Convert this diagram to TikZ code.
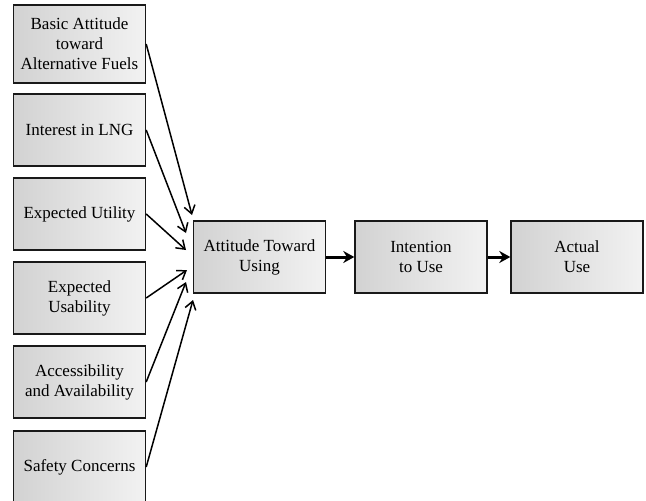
\documentclass[tikz,border=0pt]{standalone}
\usepackage{fontspec}
\setmainfont{Liberation Serif}
\usetikzlibrary{positioning, arrows.meta, calc}
\definecolor{boxLeft}{RGB}{210,210,210}
\definecolor{boxRight}{RGB}{242,242,242}
\definecolor{boxBrd}{RGB}{25,25,25}
\tikzset{
  every node/.style={font=\fontsize{17}{20}\selectfont},
  B/.style={draw=boxBrd, line width=1.4pt, align=center, inner sep=2pt,
            minimum width=132pt, minimum height=72pt,
            left color=boxLeft, right color=boxRight},
  AR/.style={-{Straight Barb[length=8pt, width=11pt, line width=1.5pt]}, line width=1.5pt, black},
  MAIN/.style={-{Stealth[length=11pt, width=12pt]}, line width=3pt, black},
}
\newcommand{\inflow}[2]{\draw[AR] (#1.east) -- (#2);}

\begin{document}
\begin{tikzpicture}[x=1pt, y=1pt, yscale=-1]

\useasboundingbox (0,0) rectangle (646,501);

%% Input factors
\node[B, minimum height=78pt] (BAS) at (79.5,44)
  {Basic Attitude\\toward\\Alternative Fuels};
\node[B] (INT) at (79.5,130) {Interest in LNG};
\node[B] (UTI) at (79.5,214) {Expected Utility};
\node[B] (USA) at (79.5,298) {Expected\\Usability};
\node[B] (ACC) at (79.5,382) {Accessibility\\and Availability};
\node[B] (SAF) at (79.5,467) {Safety Concerns};

%% Main chain
\node[B] (ATU) at (259.5,257) {Attitude Toward\\Using};
\node[B] (ITU) at (421,257) {Intention\\to Use};
\node[B] (ACT) at (577,257) {Actual\\Use};

%% Arrow tips on the left of ATU
\coordinate (t1) at (192,215);
\coordinate (t2) at (186,233);
\coordinate (t3) at (186,250);
\coordinate (t4) at (187,270);
\coordinate (t5) at (186,282);
\coordinate (t6) at (193,300);

\inflow{BAS}{t1}
\inflow{INT}{t2}
\inflow{UTI}{t3}
\inflow{USA}{t4}
\inflow{ACC}{t5}
\inflow{SAF}{t6}

\draw[MAIN] (ATU.east) -- (ITU.west);
\draw[MAIN] (ITU.east) -- (ACT.west);

\end{tikzpicture}
\end{document}
